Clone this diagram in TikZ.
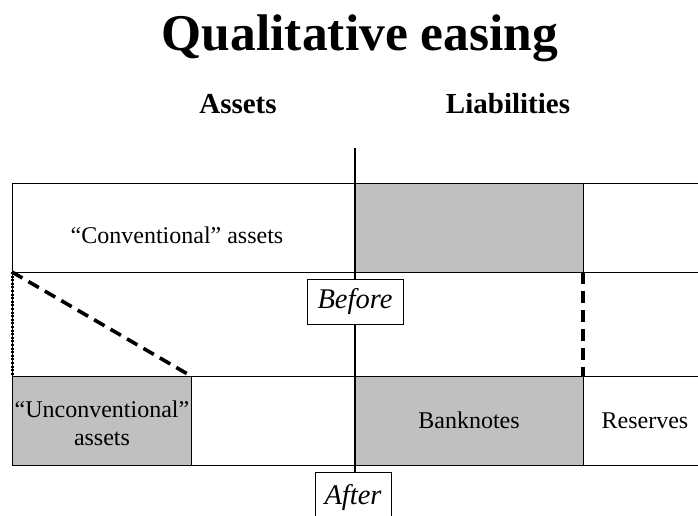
\documentclass[tikz,border=0pt]{standalone}
\usepackage{fontspec}
\setmainfont{Liberation Serif}
\definecolor{boxgray}{HTML}{C0C0C0}
\begin{document}
\begin{tikzpicture}[x=1pt,y=-1pt,
  cell/.style={draw=black, line width=0.9pt, anchor=north west, inner sep=0pt, outer sep=0pt,
    font=\fontsize{24}{24}\selectfont, align=center},
  grayc/.style={cell, fill=boxgray},
  celltext/.style={font=\fontsize{24}{28}\selectfont, align=center, inner sep=0pt},
  tag/.style={draw=black, line width=0.9pt, fill=white, inner sep=0pt,
    font=\fontsize{28.5}{28.5}\selectfont\itshape},
  head/.style={font=\fontsize{29}{29}\selectfont\bfseries, anchor=base},
  dashline/.style={line width=3.6pt, dash pattern=on 12pt off 7pt},
  dotline/.style={line width=2.6pt, dash pattern=on 2pt off 1.6pt}]
\useasboundingbox (0,0) rectangle (698,515);
\clip (0,0) rectangle (698,515);
\node[font=\fontsize{51.5}{51.5}\selectfont\bfseries, anchor=base] (title) at (360,50) {Qualitative easing};
\node[head] (assets) at (238,113) {Assets};
\node[head] (liab) at (508,113) {Liabilities};
% top row
\node[cell, minimum width=343, minimum height=89] (conv) at (12,183) {};
\node[celltext, anchor=base] (convtext) at (177,243) {“Conventional” assets};
\node[grayc, minimum width=228, minimum height=89] (topgray) at (355,183) {};
\node[cell, minimum width=130, minimum height=89] (topright) at (583,183) {};
% middle row
\node[cell, minimum width=720, minimum height=104] (mid) at (12,272) {};
% bottom row
\node[grayc, minimum width=179, minimum height=89] (unconv) at (12,376) {};
\node[celltext] (unconvtext) at (102,423) {“Unconventional”\\assets};
\node[cell, minimum width=164, minimum height=89] (botwhite) at (191,376) {};
\node[grayc, minimum width=228, minimum height=89] (bank) at (355,376) {Banknotes};
\node[cell, minimum width=124, minimum height=89] (res) at (583,376) {Reserves};
% shifts
\draw[dashline] (mid.north west) -- (botwhite.north west);
\draw[dotline] ([xshift=0.4pt]mid.north west) -- ([xshift=0.4pt]unconv.north west);
\draw[dashline] (topgray.south east) -- (bank.north east);
% axis
\coordinate (axtop) at (355,148);
\coordinate (axbot) at (355,472);
\draw[line width=2.2pt] (axtop) -- (axbot);
\node[tag, minimum width=96, minimum height=45] (before) at (355,301.5) {Before};
\node[tag, minimum width=76, minimum height=50, anchor=north] (after) at (353,472) {After};
\end{tikzpicture}
\end{document}
